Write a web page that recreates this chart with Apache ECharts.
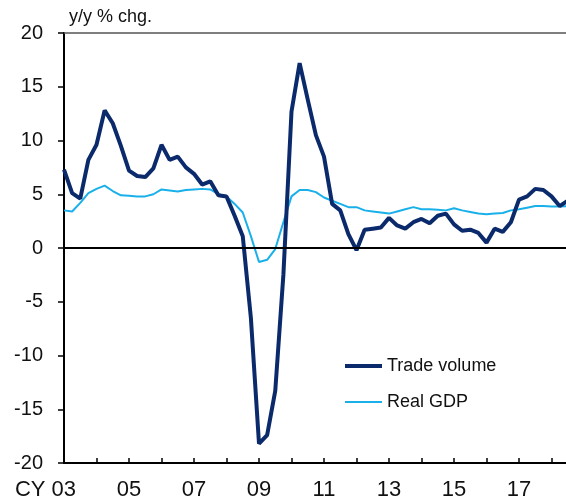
<!DOCTYPE html>
<html>

<head>
    <meta charset="utf-8" />
    <title>Trade volume vs Real GDP</title>
    <script src="https://cdn.jsdelivr.net/npm/echarts@6/dist/echarts.min.js"></script>
    <style>
        html, body {
            margin: 0;
            padding: 0;
            background: #fff;
        }
    </style>
</head>

<body>
    <div id="main" style="width: 566px;height:502px;"></div>
</body>

<script>
    // quarters 2003Q1 .. 2019Q1 (last two only stretch the axis past the right edge)
    var quarters = [
        '2003Q1', '2003Q2', '2003Q3', '2003Q4', '2004Q1', '2004Q2', '2004Q3', '2004Q4',
        '2005Q1', '2005Q2', '2005Q3', '2005Q4', '2006Q1', '2006Q2', '2006Q3', '2006Q4',
        '2007Q1', '2007Q2', '2007Q3', '2007Q4', '2008Q1', '2008Q2', '2008Q3', '2008Q4',
        '2009Q1', '2009Q2', '2009Q3', '2009Q4', '2010Q1', '2010Q2', '2010Q3', '2010Q4',
        '2011Q1', '2011Q2', '2011Q3', '2011Q4', '2012Q1', '2012Q2', '2012Q3', '2012Q4',
        '2013Q1', '2013Q2', '2013Q3', '2013Q4', '2014Q1', '2014Q2', '2014Q3', '2014Q4',
        '2015Q1', '2015Q2', '2015Q3', '2015Q4', '2016Q1', '2016Q2', '2016Q3', '2016Q4',
        '2017Q1', '2017Q2', '2017Q3', '2017Q4', '2018Q1', '2018Q2', '2018Q3', '2018Q4',
        '2019Q1'
    ];

    // y/y % chg.
    var tradeVolume = [
        7.3, 5.1, 4.6, 8.2, 9.6, 12.8, 11.6, 9.5,
        7.2, 6.7, 6.6, 7.4, 9.6, 8.2, 8.5, 7.5,
        6.9, 5.9, 6.2, 4.9, 4.8, 3.0, 1.1, -6.5,
        -18.2, -17.4, -13.3, -2.5, 12.7, 17.2, 13.8, 10.5,
        8.5, 4.1, 3.5, 1.3, -0.2, 1.7, 1.8, 1.9,
        2.8, 2.1, 1.8, 2.4, 2.7, 2.3, 3.0, 3.2,
        2.2, 1.6, 1.7, 1.4, 0.5, 1.8, 1.5, 2.4,
        4.5, 4.8, 5.5, 5.4, 4.8, 3.9, 4.4
    ];

    var realGdp = [
        3.5, 3.4, 4.2, 5.1, 5.5, 5.8, 5.3, 4.9,
        4.85, 4.8, 4.8, 5.0, 5.45, 5.35, 5.25, 5.4,
        5.45, 5.5, 5.45, 5.0, 4.8, 4.1, 3.3, 1.1,
        -1.3, -1.1, -0.1, 2.4, 4.8, 5.4, 5.4, 5.2,
        4.7, 4.4, 4.1, 3.8, 3.8, 3.5, 3.4, 3.3,
        3.2, 3.4, 3.6, 3.8, 3.6, 3.6, 3.55, 3.5,
        3.7, 3.5, 3.35, 3.2, 3.15, 3.2, 3.25, 3.5,
        3.6, 3.75, 3.9, 3.9, 3.85, 3.85, 3.9
    ];

    var font = "'Liberation Sans', Arial, sans-serif";

    var myChart = echarts.init(document.getElementById('main'));

    var option = {
        animation: false,
        title: {
            text: 'y/y % chg.',
            left: 69,
            top: 8,
            padding: 0,
            textStyle: {
                fontFamily: font,
                fontSize: 18,
                fontWeight: 'normal',
                color: '#111'
            }
        },
        grid: {
            left: 64,
            top: 33,
            width: 520,
            height: 430,
            outerBoundsMode: 'none'
        },
        legend: {
            orient: 'vertical',
            left: 343,
            top: 357,
            padding: 0,
            itemWidth: 37,
            itemHeight: 18,
            itemGap: 18,
            itemStyle: { opacity: 0 },
            lineStyle: { width: 'inherit' },
            textStyle: {
                fontFamily: font,
                fontSize: 18,
                color: '#111'
            },
            data: ['Trade volume', 'Real GDP']
        },
        xAxis: [
            {
                type: 'category',
                data: quarters,
                boundaryGap: false,
                axisLine: { onZero: false, lineStyle: { color: '#000', width: 2 } },
                axisTick: {
                    inside: true,
                    length: 5,
                    interval: 3,
                    lineStyle: { color: '#000', width: 1.5 }
                },
                axisLabel: {
                    interval: 7,
                    margin: 16,
                    fontFamily: font,
                    fontSize: 22,
                    color: '#111',
                    formatter: function (value, index) {
                        var yy = value.slice(2, 4);
                        if (index === 0) {
                            return '{cy|CY ' + yy + '}';
                        }
                        if (index >= 64) {
                            return '';
                        }
                        return yy;
                    },
                    rich: {
                        cy: {
                            fontFamily: font,
                            fontSize: 22,
                            color: '#111',
                            padding: [0, 37, 0, 0]
                        }
                    }
                },
                splitLine: { show: false }
            },
            {
                // top frame line
                type: 'category',
                data: quarters,
                boundaryGap: false,
                position: 'top',
                axisLine: { onZero: false, lineStyle: { color: '#555', width: 1.5 } },
                axisTick: { show: false },
                axisLabel: { show: false },
                splitLine: { show: false }
            }
        ],
        yAxis: {
            type: 'value',
            min: -20,
            max: 20,
            interval: 5,
            axisLine: { show: true, lineStyle: { color: '#000', width: 2 } },
            axisTick: {
                show: true,
                length: 6,
                lineStyle: { color: '#000', width: 1.5 }
            },
            axisLabel: {
                margin: 21,
                fontFamily: font,
                fontSize: 20,
                color: '#111'
            },
            splitLine: { show: false }
        },
        series: [
            {
                name: 'Real GDP',
                type: 'line',
                data: realGdp,
                symbol: 'none',
                lineStyle: { color: '#19b0ea', width: 2 },
                itemStyle: { color: '#19b0ea' },
                z: 2,
                markLine: {
                    silent: true,
                    symbol: ['none', 'none'],
                    label: { show: false },
                    lineStyle: { color: '#000', width: 2, type: 'solid' },
                    data: [{ yAxis: 0 }]
                }
            },
            {
                name: 'Trade volume',
                type: 'line',
                data: tradeVolume,
                symbol: 'none',
                lineStyle: { color: '#0b2a6b', width: 4 },
                itemStyle: { color: '#0b2a6b' },
                z: 3
            }
        ]
    };

    myChart.setOption(option);
</script>

</html>
